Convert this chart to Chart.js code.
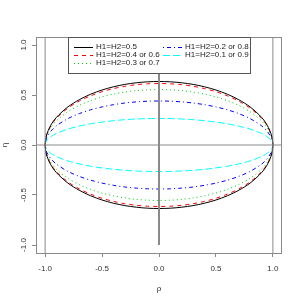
<!DOCTYPE html>
<html>
<head>
<meta charset="utf-8">
<script src="https://cdn.jsdelivr.net/npm/chart.js@4"></script>
<style>
  html, body { margin: 0; padding: 0; background: #fff; }
  #wrap { width: 300px; height: 300px; }
</style>
</head>
<body>
<div id="wrap"><canvas id="ellipseChart" width="300" height="300"></canvas></div>
<script>
const rho = [-1, -0.99, -0.95, -0.9, -0.8, -0.7, -0.6, -0.5, -0.4, -0.3, -0.2, -0.1, 0,
             0.1, 0.2, 0.3, 0.4, 0.5, 0.6, 0.7, 0.8, 0.9, 0.95, 0.99, 1];

// |eta| of each curve (curves are symmetric about eta = 0)
const eta05 = [0, 0.09, 0.198, 0.277, 0.381, 0.453, 0.508, 0.55, 0.582, 0.606, 0.622, 0.632, 0.635,
               0.632, 0.622, 0.606, 0.582, 0.55, 0.508, 0.453, 0.381, 0.277, 0.198, 0.09, 0];
const eta04 = [0, 0.087, 0.192, 0.268, 0.369, 0.439, 0.492, 0.533, 0.564, 0.587, 0.603, 0.612, 0.615,
               0.612, 0.603, 0.587, 0.564, 0.533, 0.492, 0.439, 0.369, 0.268, 0.192, 0.087, 0];
const eta03 = [0, 0.078, 0.173, 0.242, 0.333, 0.396, 0.444, 0.481, 0.509, 0.529, 0.544, 0.552, 0.555,
               0.552, 0.544, 0.529, 0.509, 0.481, 0.444, 0.396, 0.333, 0.242, 0.173, 0.078, 0];
const eta02 = [0, 0.062, 0.137, 0.192, 0.264, 0.314, 0.352, 0.381, 0.403, 0.42, 0.431, 0.438, 0.44,
               0.438, 0.431, 0.42, 0.403, 0.381, 0.352, 0.314, 0.264, 0.192, 0.137, 0.062, 0];
const eta01 = [0, 0.037, 0.083, 0.116, 0.159, 0.189, 0.212, 0.229, 0.243, 0.253, 0.26, 0.264, 0.265,
               0.264, 0.26, 0.253, 0.243, 0.229, 0.212, 0.189, 0.159, 0.116, 0.083, 0.037, 0];

const curveLabels = ['H1=H2=0.5', 'H1=H2=0.4 or 0.6', 'H1=H2=0.3 or 0.7', 'H1=H2=0.2 or 0.8', 'H1=H2=0.1 or 0.9'];
const curveColors = ['#000000', '#ff0000', '#00cd00', '#0000ff', '#00ffff'];
const curveDashes = [[], [4, 4], [1, 3], [1, 3, 4, 3], [7, 3]];

const xTicks = [-1, -0.5, 0, 0.5, 1];
const yTicks = [-1, -0.5, 0, 0.5, 1];
const axisMin = -1.08;
const axisMax = 1.08;

// reference lines
const hLine = [{ x: axisMin, y: 0 }, { x: axisMax, y: 0 }];
const vLineLeft = [{ x: -1, y: axisMin }, { x: -1, y: axisMax }];
const vLineRight = [{ x: 1, y: axisMin }, { x: 1, y: axisMax }];
const vLineMid = [{ x: 0, y: -1 }, { x: 0, y: 1 }];

const FONT = "'Liberation Sans', Arial, sans-serif";

function loop(mag) {
    const upper = rho.map((r, i) => ({ x: r, y: mag[i] }));
    const lower = rho.map((r, i) => ({ x: r, y: -mag[i] })).reverse();
    return upper.concat(lower.slice(1));
}

function refLine(data, width) {
    return {
        data: data,
        borderColor: '#8a8a8a',
        borderWidth: width,
        showLine: true,
        pointRadius: 0,
        fill: false,
        isRef: true
    };
}

const curves = [eta05, eta04, eta03, eta02, eta01];
const datasets = [
    refLine(hLine, 1),
    refLine(vLineLeft, 1),
    refLine(vLineRight, 1),
    refLine(vLineMid, 2)
];
curves.forEach((mag, i) => {
    datasets.push({
        label: curveLabels[i],
        data: loop(mag),
        borderColor: curveColors[i],
        borderDash: curveDashes[i],
        borderWidth: 1,
        showLine: true,
        pointRadius: 0,
        tension: 0.3,
        fill: false
    });
});

// R style box around the plot
const boxPlugin = {
    id: 'box',
    afterDraw(chart) {
        const { ctx, chartArea: a } = chart;
        ctx.save();
        ctx.strokeStyle = '#8a8a8a';
        ctx.lineWidth = 1;
        ctx.strokeRect(Math.round(a.left) + 0.5, Math.round(a.top) + 0.5,
            Math.round(a.right - a.left) - 1, Math.round(a.bottom - a.top));
        ctx.restore();
    }
};

// two-column legend with a box, like legend(ncol = 2) in R
const rLegend = {
    id: 'rLegend',
    afterDraw(chart) {
        const { ctx, chartArea: a } = chart;
        const left = a.left + 32, top = a.top, w = 182, h = 36;
        ctx.save();
        ctx.fillStyle = '#fff';
        ctx.fillRect(left, top, w, h);
        ctx.strokeStyle = '#555';
        ctx.lineWidth = 1;
        ctx.strokeRect(left + 0.5, top + 0.5, w, h);
        ctx.font = '8px ' + FONT;
        ctx.textBaseline = 'middle';
        const curveSets = chart.data.datasets.filter(d => !d.isRef);
        curveSets.forEach((ds, i) => {
            const col = i < 3 ? 0 : 1;
            const row = i < 3 ? i : i - 3;
            const x0 = left + 6 + col * 89;
            const y = top + 9.5 + row * 8;
            ctx.strokeStyle = ds.borderColor;
            ctx.setLineDash(ds.borderDash);
            ctx.beginPath();
            ctx.moveTo(x0, Math.round(y) + 0.5);
            ctx.lineTo(x0 + 19, Math.round(y) + 0.5);
            ctx.stroke();
            ctx.setLineDash([]);
            ctx.fillStyle = '#222';
            ctx.fillText(ds.label, x0 + 22, y);
        });
        ctx.restore();
    }
};

const ctx = document.getElementById('ellipseChart').getContext('2d');
new Chart(ctx, {
    type: 'scatter',
    data: { datasets: datasets },
    options: {
        responsive: false,
        animation: false,
        layout: { padding: { top: 37, right: 18, left: 0, bottom: 0 } },
        plugins: {
            legend: { display: false },
            tooltip: { enabled: false }
        },
        scales: {
            x: {
                type: 'linear',
                min: axisMin,
                max: axisMax,
                afterFit: scale => { scale.height = 47; },
                afterBuildTicks: scale => { scale.ticks = xTicks.map(v => ({ value: v })); },
                grid: { drawOnChartArea: false, drawTicks: true, tickLength: 4, color: '#8a8a8a' },
                border: { display: false },
                ticks: {
                    padding: 7,
                    maxRotation: 0,
                    color: '#333',
                    font: { family: FONT, size: 8 },
                    callback: v => v.toFixed(1)
                },
                title: {
                    display: true,
                    text: 'ρ',
                    color: '#333',
                    font: { family: FONT, size: 8 },
                    padding: { top: 0, bottom: 6 }
                }
            },
            y: {
                type: 'linear',
                min: axisMin,
                max: axisMax,
                afterFit: scale => { scale.width = 36; },
                afterBuildTicks: scale => { scale.ticks = yTicks.map(v => ({ value: v })); },
                grid: { drawOnChartArea: false, drawTicks: true, tickLength: 4, color: '#8a8a8a' },
                border: { display: false },
                ticks: {
                    padding: 1,
                    minRotation: 90,
                    maxRotation: 90,
                    crossAlign: 'center',
                    color: '#333',
                    font: { family: FONT, size: 8 },
                    callback: v => v.toFixed(1)
                },
                title: {
                    display: true,
                    text: 'η',
                    color: '#333',
                    font: { family: FONT, size: 8 },
                    padding: { top: 0, bottom: 0 }
                }
            }
        }
    },
    plugins: [boxPlugin, rLegend]
});
</script>
</body>
</html>
